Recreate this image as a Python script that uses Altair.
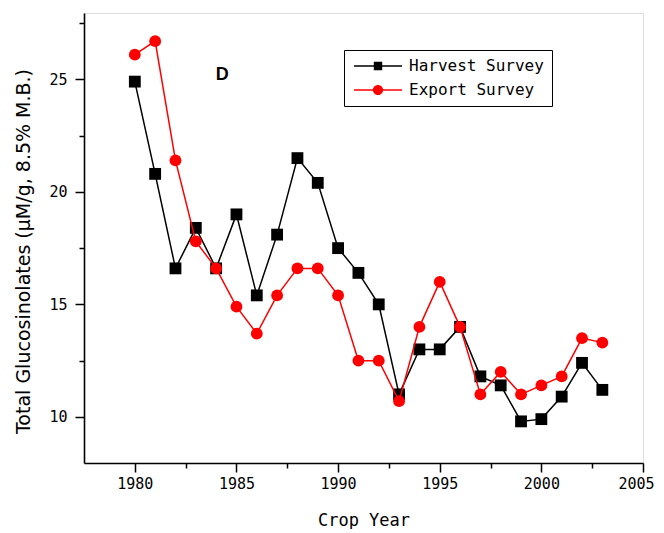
import altair as alt
import pandas as pd

years = list(range(1980, 2004))
harvest = [24.9, 20.8, 16.6, 18.4, 16.6, 19.0, 15.4, 18.1, 21.5, 20.4, 17.5, 16.4,
           15.0, 11.0, 13.0, 13.0, 14.0, 11.8, 11.4, 9.8, 9.9, 10.9, 12.4, 11.2]
export = [26.1, 26.7, 21.4, 17.8, 16.6, 14.9, 13.7, 15.4, 16.6, 16.6, 15.4, 12.5,
          12.5, 10.7, 14.0, 16.0, 14.0, 11.0, 12.0, 11.0, 11.4, 11.8, 13.5, 13.3]
series = ["Harvest Survey", "Export Survey"]
colors = ["#000000", "#ff0000"]
x_ticks = [1980, 1982.5, 1985, 1987.5, 1990, 1992.5, 1995, 1997.5, 2000, 2002.5, 2005]
y_ticks = [10, 12.5, 15, 17.5, 20, 22.5, 25, 27.5]
panel_label = "D"

df = pd.DataFrame({
    "year": years * 2,
    "value": harvest + export,
    "series": [series[0]] * len(years) + [series[1]] * len(years),
})

harvest_path = "M-4,-0.13H4V0.13H-4Z M-0.7,-0.7H0.7V0.7H-0.7Z"
export_path = "M-4,-0.13H4V0.13H-4Z M-0.85,0A0.85,0.85 0 1,1 0.85,0A0.85,0.85 0 1,1 -0.85,0Z"

xscale = alt.Scale(domain=[1977.5, 2005], nice=False, zero=False)
yscale = alt.Scale(domain=[7.95, 27.95], nice=False, zero=False)
cscale = alt.Scale(domain=series, range=colors)

x_axis = alt.Axis(
    values=x_ticks, title="Crop Year", grid=False,
    labelExpr="datum.value % 5 === 0 ? datum.label : ''", format="d",
    tickSize={"condition": {"test": "datum.value % 5 === 0", "value": 9}, "value": 5},
    tickWidth=1.5, tickColor="black", domainColor="black", domainWidth=1.6,
    labelFont="DejaVu Sans Mono", labelFontSize=15, labelColor="black", labelPadding=4,
    titleFont="DejaVu Sans Mono", titleFontSize=17, titleFontWeight="normal",
    titleColor="black", titlePadding=21, labelFlush=True, labelFlushOffset=11,
    labelOverlap=False,
)
y_axis = alt.Axis(
    values=y_ticks, title="Total Glucosinolates (\u00b5M/g, 8.5% M.B.)", grid=False,
    labelExpr="datum.value % 5 === 0 ? datum.label : ''",
    tickSize={"condition": {"test": "datum.value % 5 === 0", "value": 9}, "value": 5},
    tickWidth=1.5, tickColor="black", domainColor="black", domainWidth=1.6,
    labelFont="DejaVu Sans Mono", labelFontSize=15, labelColor="black", labelPadding=8,
    titleFont="DejaVu Sans", titleFontSize=19, titleFontWeight="normal",
    titleColor="black", titleY=238, titlePadding=15, labelFlush=False, labelOverlap=False,
)

legend = alt.Legend(
    title=None, orient="none", legendX=260, legendY=37, direction="vertical",
    labelFont="DejaVu Sans Mono", labelFontSize=16, labelColor="black",
    strokeColor="black", padding=8, rowPadding=8, symbolSize=144,
    symbolOffset=18, labelOffset=23, symbolStrokeWidth=0, symbolOpacity=1,
)

base = alt.Chart(df)
X = alt.X("year:Q", scale=xscale, axis=x_axis)
Y = alt.Y("value:Q", scale=yscale, axis=y_axis)
C = alt.Color("series:N", scale=cscale, sort=series)

legend_layer = base.mark_point(filled=True, opacity=1).encode(
    x=X, y=Y,
    color=alt.Color("series:N", scale=cscale, sort=series, legend=legend),
    shape=alt.Shape("series:N", scale=alt.Scale(domain=series, range=[harvest_path, export_path]),
                    legend=legend, sort=series),
).transform_filter("false")


def line_layer(name):
    return base.mark_line(strokeWidth=1.5).encode(x=X, y=Y, color=C, order="year:Q").transform_filter(
        alt.datum.series == name)


harvest_pts = base.mark_square(size=140, opacity=1).encode(x=X, y=Y, color=C).transform_filter(
    alt.datum.series == series[0])
export_pts = base.mark_circle(size=140, opacity=1).encode(x=X, y=Y, color=C).transform_filter(
    alt.datum.series == series[1])

label_df = pd.DataFrame({"x": [1984.3], "y": [25.2], "t": [panel_label]})
label = alt.Chart(label_df).mark_text(
    font="Liberation Sans", fontSize=18, fontWeight="bold", color="black", baseline="middle"
).encode(x=alt.X("x:Q", scale=xscale), y=alt.Y("y:Q", scale=yscale), text="t:N")

chart = alt.layer(
    legend_layer, line_layer(series[0]), harvest_pts, line_layer(series[1]), export_pts, label
).properties(
    width=559, height=450,
    autosize=alt.AutoSizeParams(type="none"),
    padding={"left": 76, "top": 5, "right": 13, "bottom": 66},
).configure_view(stroke=None).configure(background="white")

chart.save("out.html", embed_options={"renderer": "svg", "actions": False})
